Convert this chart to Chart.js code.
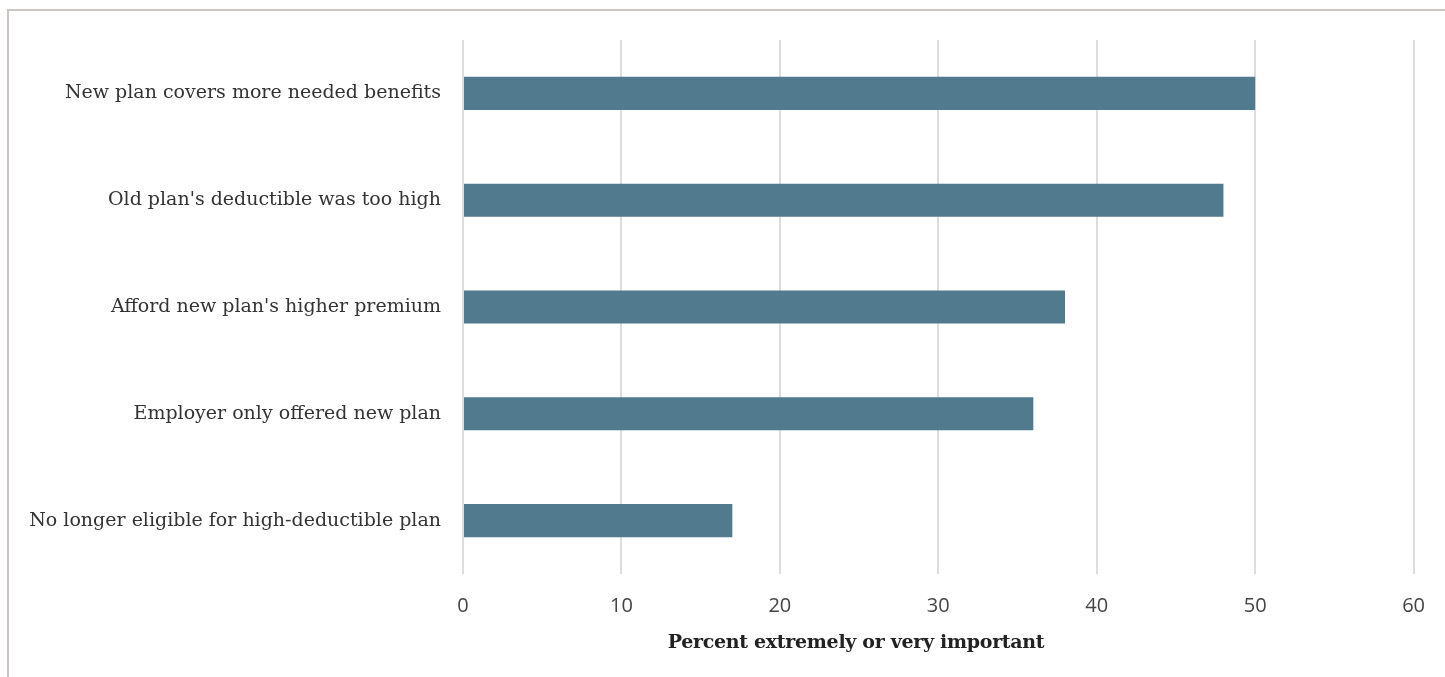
<!DOCTYPE html>
<html>
<head>
<meta charset="utf-8">
<script src="https://cdn.jsdelivr.net/npm/chart.js@4.4.6/dist/chart.umd.min.js"></script>
<style>
  html, body { margin: 0; padding: 0; background: #fff; overflow: hidden; }
  #frame {
    position: absolute; left: 7px; top: 9px; width: 1438px; height: 668px;
    border-top: 2px solid #cdc6c2; border-left: 2px solid #cdc6c2;
  }
  #wrap { position: absolute; left: 0; top: 0; width: 1436px; height: 666px; }
  #xtitle {
    position: absolute; left: 0; width: 1694px; top: 619px; text-align: center;
    font-family: "DejaVu Serif", serif; font-weight: bold; font-size: 19px; color: #222;
    letter-spacing: -0.3px;
  }
</style>
</head>
<body>
<div id="frame">
  <div id="wrap"><canvas id="chart-reasons"></canvas></div>
  <div id="xtitle">Percent extremely or very important</div>
</div>
<script>
// Reasons for switching away from a high-deductible plan.
const categories = [
  "New plan covers more needed benefits",
  "Old plan's deductible was too high",
  "Afford new plan's higher premium",
  "Employer only offered new plan",
  "No longer eligible for high-deductible plan",
];
const values = [50, 48, 38, 36, 17];
const xTicks = [0, 10, 20, 30, 40, 50, 60];

const BAR = "#527a8e";
const GRID = "#dddddd";

new Chart(document.getElementById("chart-reasons"), {
  type: "bar",
  data: {
    labels: categories,
    datasets: [{
      data: values,
      backgroundColor: BAR,
      borderWidth: 0,
      categoryPercentage: 1,
      barPercentage: 0.31,
    }],
  },
  options: {
    indexAxis: "y",
    responsive: true,
    maintainAspectRatio: false,
    animation: false,
    layout: { padding: { top: 29, right: 20, bottom: 0, left: 0 } },
    plugins: { legend: { display: false }, tooltip: { enabled: false } },
    scales: {
      x: {
        min: xTicks[0],
        max: xTicks[xTicks.length - 1],
        afterBuildTicks: s => { s.ticks = xTicks.map(v => ({ value: v })); },
        afterFit: s => { s.height = 103; },
        grid: { color: GRID, lineWidth: 2, drawTicks: false },
        border: { display: false },
        ticks: {
          padding: 20,
          color: "#444",
          font: { family: "'Open Sans', sans-serif", size: 20, weight: 400 },
        },
      },
      y: {
        afterFit: s => { s.width = 454; },
        grid: { display: false },
        border: { display: false },
        ticks: {
          padding: 14,
          color: "#333",
          font: { family: "'DejaVu Serif', serif", size: 19, weight: 300 },
        },
      },
    },
  },
});
</script>
</body>
</html>
